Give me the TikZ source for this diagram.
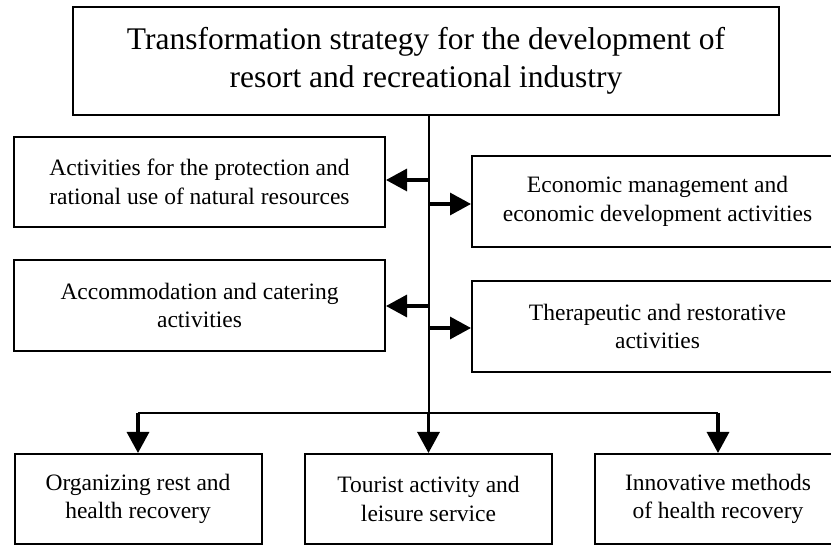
\documentclass[tikz,border=0pt]{standalone}
\usepackage{fontspec}
\setmainfont{Liberation Serif}
\usetikzlibrary{arrows.meta}
\begin{document}
\begin{tikzpicture}[x=1pt,y=-1pt,
  box/.style={draw=black,line width=2pt,inner sep=0pt,align=center,
    minimum width=371pt,minimum height=90pt,
    font=\fontsize{23.5}{28.5}\selectfont},
  bottombox/.style={box,minimum width=247pt},
  ln/.style={line width=2pt},
  arr/.style={line width=3.2pt,-{Triangle[length=21pt,width=22pt]}}]
\useasboundingbox (0,0) rectangle (831,545);
\clip (0,0) rectangle (831,545);
\fill[white] (0,0) rectangle (831,545);

% main strategy box
\node[box,minimum width=706pt,minimum height=108pt,
  font=\fontsize{31.5}{38}\selectfont] (top) at (426,61)
  {Transformation strategy for the development of\\resort and recreational industry};

% side activity boxes
\node[box] (l1) at (199.5,182) {Activities for the protection and\\rational use of natural resources};
\node[box,minimum height=91pt] (r1) at (657.5,201.5) {Economic management and\\economic development activities};
\node[box,minimum height=91pt] (l2) at (199.5,305.5) {Accommodation and catering\\activities};
\node[box,minimum height=91pt] (r2) at (657.5,326.5) {Therapeutic and restorative\\activities};

% bottom boxes
\node[bottombox] (b1) at (138,499) {Organizing rest and\\health recovery};
\node[bottombox] (b2) at (428.5,499) {Tourist activity and\\leisure service};
\node[bottombox] (b3) at (718,499) {Innovative methods\\of health recovery};

% trunk and bus
\coordinate (t) at (428.5,115);
\coordinate (bus) at (428.5,413);
\draw[ln] (t) -- (bus);
\draw[ln] (b1.north |- bus) -- (b3.north |- bus);

% side arrows
\draw[arr] (t |- 0,180) -- (l1.east |- 0,180);
\draw[arr] (t |- 0,204) -- (r1.west |- 0,204);
\draw[arr] (t |- 0,306) -- (l2.east |- 0,306);
\draw[arr] (t |- 0,328) -- (r2.west |- 0,328);

% arrows down to bottom boxes
\draw[arr] (b1.north |- bus) -- (b1.north);
\draw[arr] (b2.north |- bus) -- (b2.north);
\draw[arr] (b3.north |- bus) -- (b3.north);
\end{tikzpicture}
\end{document}
